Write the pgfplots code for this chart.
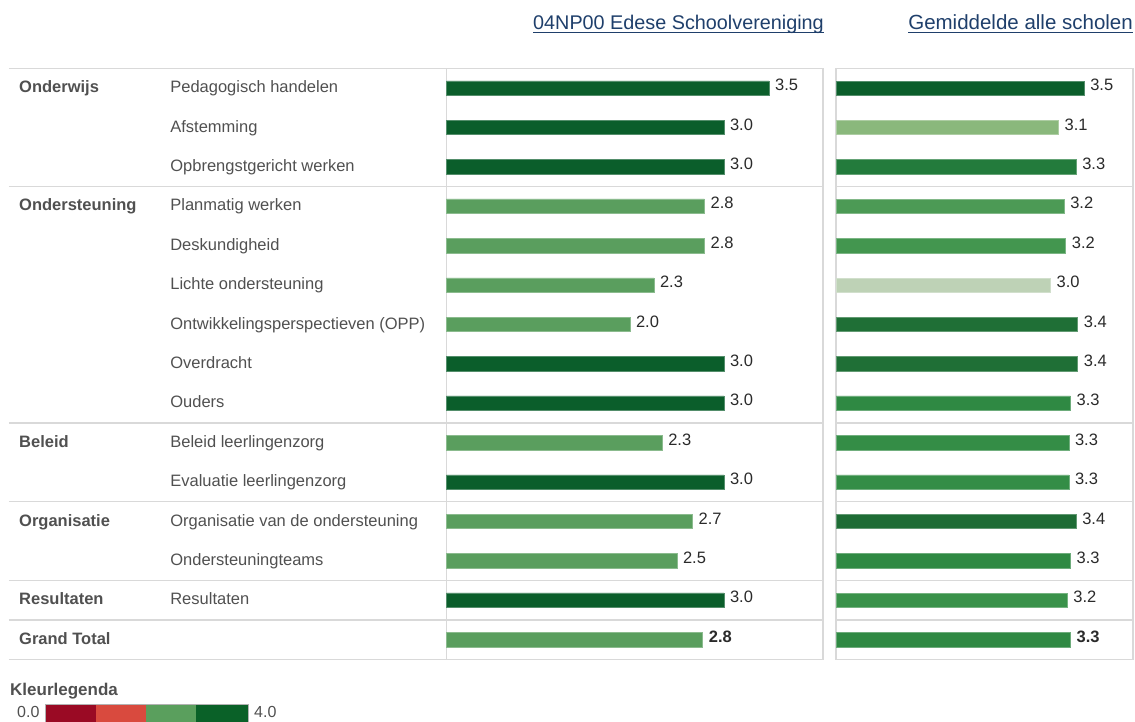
\documentclass[border=0pt]{standalone}
\usepackage{fontspec}
\setmainfont{Liberation Sans}
\usepackage{pgfplots}
\pgfplotsset{compat=1.18}
\definecolor{gridc}{HTML}{D9D9D9}
\definecolor{labc}{HTML}{505050}
\definecolor{valc}{HTML}{2A2A2A}
\definecolor{titc}{HTML}{1F3F6B}
\definecolor{cdark}{HTML}{0B5E2B}
\definecolor{cmed}{HTML}{5A9E5E}
\definecolor{rA}{HTML}{0B5E2B}
\definecolor{rB}{HTML}{8AB87C}
\definecolor{rC}{HTML}{237B3C}
\definecolor{rD}{HTML}{4C9A55}
\definecolor{rE}{HTML}{43964F}
\definecolor{rF}{HTML}{BED2B6}
\definecolor{rG}{HTML}{1F6F36}
\definecolor{rH}{HTML}{2F8943}
\definecolor{rI}{HTML}{348D46}
\definecolor{rJ}{HTML}{1E6C35}
\definecolor{rK}{HTML}{3A924A}
\definecolor{lgA}{HTML}{9A0A24}
\definecolor{lgB}{HTML}{D94A3E}
\definecolor{lgC}{HTML}{5A9F5D}
\definecolor{lgD}{HTML}{0A6128}
\newcommand{\fs}[1]{\fontsize{#1}{#1}\selectfont}
\pgfplotsset{
  barstyle/.style={xbar, bar shift=0pt, bar width=14.5pt, line width=0.5pt,
    fill=#1, draw=#1!70!white, nodes near coords, point meta=explicit symbolic,
    nodes near coords align={horizontal},
    every node near coord/.append style={anchor=west, inner sep=0pt, xshift=6pt, yshift=2.9pt,
      font=\fs{16.5}, text=valc}},
  panel/.style={scale only axis, anchor=north west, height=591pt,
    ymin=-0.5, ymax=14.5, y dir=reverse,
    xtick=\empty, ytick={2.5,8.5,10.5,12.5,13.5}, yticklabel=\empty,
    ytick style={draw=none}, ymajorgrids,
    grid style={draw=gridc, line width=1.2pt},
    axis line style={draw=gridc, line width=1.2pt}},
}
\begin{document}
\begin{tikzpicture}[x=1pt,y=1pt]
\useasboundingbox (0,0) rectangle (1135,-722);
% titles
\node[anchor=base east, inner sep=0pt, text=titc, font=\fs{19.8}] (t1) at (824,-30) {04NP00 Edese Schoolvereniging};
\draw[titc, line width=1.4pt] ([yshift=-2.4pt]t1.base west) -- ([yshift=-2.4pt]t1.base east);
\node[anchor=base east, inner sep=0pt, text=titc, font=\fs{20.5}] (t2) at (1133,-30) {Gemiddelde alle scholen};
\draw[titc, line width=1.4pt] ([yshift=-2.4pt]t2.base west) -- ([yshift=-2.4pt]t2.base east);

% left panel
\begin{axis}[panel, at={(446.5pt,-68.3pt)}, width=376.5pt,
  xmin=0, xmax=4.087, clip=false]
\addplot[barstyle=cdark] coordinates {
 (3.50,0) [3.5] (3.01,1) [3.0] (3.01,2) [3.0] (3.01,7) [3.0]
 (3.01,8) [3.0] (3.01,10) [3.0] (3.01,13) [3.0]};
\addplot[barstyle=cmed] coordinates {
 (2.80,3) [2.8] (2.80,4) [2.8] (2.25,5) [2.3] (1.99,6) [2.0]
 (2.34,9) [2.3] (2.67,11) [2.7] (2.50,12) [2.5]};
\addplot[barstyle=cmed, every node near coord/.append style={font=\bfseries\fs{16.5}}] coordinates {
 (2.78,14) [2.8]};
% row dividers across the label area
\foreach \yy in {-0.5,2.5,8.5,10.5,12.5,13.5,14.5}{
  \edef\tmp{\noexpand\draw[gridc, line width=1.2pt] (axis cs:-4.75,\yy) -- (axis cs:0,\yy);}\tmp
}
% category labels
\begin{scope}[every node/.style={anchor=base west, inner sep=0pt, text=labc, font=\bfseries\fs{16.5}, yshift=-4.6pt}]
\node at (axis cs:-4.641,0) {Onderwijs};
\node at (axis cs:-4.641,3) {Ondersteuning};
\node at (axis cs:-4.641,9) {Beleid};
\node at (axis cs:-4.641,11) {Organisatie};
\node at (axis cs:-4.641,13) {Resultaten};
\node at (axis cs:-4.641,14) {Grand Total};
\end{scope}
\begin{scope}[every node/.style={anchor=base west, inner sep=0pt, text=labc, font=\fs{16.5}, yshift=-4.6pt}]
\node at (axis cs:-3,0) {Pedagogisch handelen};
\node at (axis cs:-3,1) {Afstemming};
\node at (axis cs:-3,2) {Opbrengstgericht werken};
\node at (axis cs:-3,3) {Planmatig werken};
\node at (axis cs:-3,4) {Deskundigheid};
\node at (axis cs:-3,5) {Lichte ondersteuning};
\node at (axis cs:-3,6) {Ontwikkelingsperspectieven (OPP)};
\node at (axis cs:-3,7) {Overdracht};
\node at (axis cs:-3,8) {Ouders};
\node at (axis cs:-3,9) {Beleid leerlingenzorg};
\node at (axis cs:-3,10) {Evaluatie leerlingenzorg};
\node at (axis cs:-3,11) {Organisatie van de ondersteuning};
\node at (axis cs:-3,12) {Ondersteuningteams};
\node at (axis cs:-3,13) {Resultaten};
\end{scope}
\end{axis}

% right panel
\begin{axis}[panel, at={(836pt,-68.3pt)}, width=297pt,
  xmin=0.35, xmax=4.0625]
\addplot[barstyle=rA] coordinates {(3.45,0) [3.5]};
\addplot[barstyle=rB] coordinates {(3.13,1) [3.1]};
\addplot[barstyle=rC] coordinates {(3.35,2) [3.3]};
\addplot[barstyle=rD] coordinates {(3.20,3) [3.2]};
\addplot[barstyle=rE] coordinates {(3.22,4) [3.2]};
\addplot[barstyle=rF] coordinates {(3.03,5) [3.0]};
\addplot[barstyle=rG] coordinates {(3.37,6) [3.4] (3.37,7) [3.4]};
\addplot[barstyle=rH] coordinates {(3.28,8) [3.3] (3.28,12) [3.3]};
\addplot[barstyle=rI] coordinates {(3.26,9) [3.3] (3.26,10) [3.3]};
\addplot[barstyle=rJ] coordinates {(3.35,11) [3.4]};
\addplot[barstyle=rK] coordinates {(3.24,13) [3.2]};
\addplot[barstyle=rH, every node near coord/.append style={font=\bfseries\fs{16.5}}] coordinates {(3.28,14) [3.3]};
\end{axis}

% colour legend
\node[anchor=base west, inner sep=0pt, text=labc, font=\bfseries\fs{17}] at (10,-695.5) {Kleurlegenda};
\node[anchor=base west, inner sep=0pt, text=labc, font=\fs{16}] at (17,-717) {0.0};
\fill[lgA] (45,-704) rectangle (96,-730);
\fill[lgB] (96,-704) rectangle (146,-730);
\fill[lgC] (146,-704) rectangle (196,-730);
\fill[lgD] (196,-704) rectangle (248,-730);
\draw[gray!60, line width=0.8pt] (45,-730) -- (45,-704) -- (248,-704) -- (248,-730);
\node[anchor=base west, inner sep=0pt, text=labc, font=\fs{16}] at (254,-717) {4.0};
\end{tikzpicture}
\end{document}
